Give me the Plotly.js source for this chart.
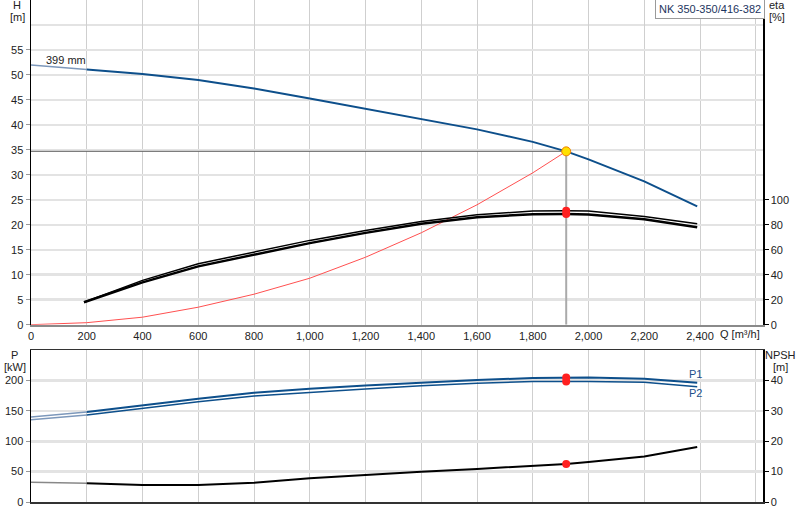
<!DOCTYPE html>
<html>
<head>
<meta charset="utf-8">
<script src="https://cdn.plot.ly/plotly-3.0.1.min.js"></script>
<style>html,body{margin:0;padding:0;background:#fff}#chart{width:800px;height:520px}</style>
</head>
<body>
<div id="chart"></div>
<script>
// ---- data ----
var qH = [0, 200, 400, 600, 800, 1000, 1200, 1400, 1600, 1800, 1920, 2000, 2200, 2390];
var headH = [52, 51.1, 50.2, 49.0, 47.3, 45.3, 43.2, 41.2, 39.1, 36.6, 34.7, 33.1, 28.7, 23.7];

var qSys = [0, 200, 400, 600, 800, 1000, 1200, 1400, 1600, 1800, 1920];
var headSys = [0, 0.4, 1.5, 3.5, 6.1, 9.3, 13.5, 18.4, 24.0, 30.4, 34.7];

var qEta = [190, 400, 600, 800, 1000, 1200, 1400, 1600, 1800, 1920, 2000, 2200, 2390];
var etaUpper = [18, 35.5, 48.8, 58.3, 67.5, 75.5, 82.6, 88, 91, 91.2, 91, 86.7, 80.8];
var etaLower = [18, 33.9, 46.7, 56.3, 65.3, 73.5, 80.8, 86, 88.5, 88.6, 88.3, 84.5, 78];

var qP = [0, 200, 400, 600, 800, 1000, 1200, 1400, 1600, 1800, 1920, 2000, 2200, 2390];
var powerP1 = [139.9, 148.1, 159.6, 170, 179.8, 186.5, 191.8, 197, 201, 204, 205, 205, 203, 196.4];
var powerP2 = [135.5, 143.2, 154.7, 165, 174.4, 180.8, 186, 191.3, 195.7, 198.4, 198.5, 198.5, 197, 189.8];
var npsh = [6.5, 6.2, 5.6, 5.6, 6.3, 7.8, 9.0, 10.0, 10.9, 11.9, 12.5, 13.2, 15.0, 18.1];

var dutyQ = 1920, dutyH = 34.7;
var dutyEta = [91.2, 88.6];
var dutyP = [205, 198.5];
var dutyNPSH = 12.5;

var xTicks = [0, 200, 400, 600, 800, 1000, 1200, 1400, 1600, 1800, 2000, 2200, 2400];
var xTickText = ['0', '200', '400', '600', '800', '1,000', '1,200', '1,400', '1,600', '1,800', '2,000', '2,200', '2,400'];
var hTicks = [0, 5, 10, 15, 20, 25, 30, 35, 40, 45, 50, 55];
var etaTicks = [0, 20, 40, 60, 80, 100];
var pTicks = [0, 50, 100, 150, 200];
var npshTicks = [0, 10, 20, 30, 40];
var pumpName = 'NK 350-350/416-382';
var impeller = '399 mm';

// ---- styles ----
var BLUE = '#0d4f8b', BLUE_EXT = '#7d98bb', BLACK = '#000', RED = '#ff2020';
var FONT = 'Liberation Sans, Arial, sans-serif';

function seg(arr, a, b) { return arr.slice(a, b); }
var iH = qH.indexOf(200), iP = qP.indexOf(200);

var traces = [
  {x: [0, dutyQ], y: [dutyH, dutyH], xaxis: 'x', yaxis: 'y', mode: 'lines', line: {color: '#666', width: 1}},
  {x: [dutyQ, dutyQ], y: [dutyH, 0], xaxis: 'x', yaxis: 'y', mode: 'lines', line: {color: '#aaa', width: 2}},
  {x: qSys, y: headSys, xaxis: 'x', yaxis: 'y', mode: 'lines', line: {color: '#ff5050', width: 1}},
  {x: seg(qH, 0, iH + 1), y: seg(headH, 0, iH + 1), xaxis: 'x', yaxis: 'y', mode: 'lines', line: {color: BLUE_EXT, width: 1.5}},
  {x: seg(qH, iH), y: seg(headH, iH), xaxis: 'x', yaxis: 'y', mode: 'lines', line: {color: BLUE, width: 2}},
  {x: qEta, y: etaUpper, xaxis: 'x', yaxis: 'y3', mode: 'lines', line: {color: BLACK, width: 1.5}},
  {x: qEta, y: etaLower, xaxis: 'x', yaxis: 'y3', mode: 'lines', line: {color: BLACK, width: 2.5}},
  {x: [dutyQ, dutyQ], y: dutyEta, xaxis: 'x', yaxis: 'y3', mode: 'markers', marker: {color: RED, size: 8}},
  {x: [dutyQ], y: [dutyH], xaxis: 'x', yaxis: 'y', mode: 'markers', marker: {color: '#ffe000', size: 9, line: {color: '#f08000', width: 1}}},
  {x: seg(qP, 0, iP + 1), y: seg(powerP1, 0, iP + 1), xaxis: 'x2', yaxis: 'y2', mode: 'lines', line: {color: BLUE_EXT, width: 1.5}},
  {x: seg(qP, 0, iP + 1), y: seg(powerP2, 0, iP + 1), xaxis: 'x2', yaxis: 'y2', mode: 'lines', line: {color: BLUE_EXT, width: 1.5}},
  {x: seg(qP, iP), y: seg(powerP1, iP), xaxis: 'x2', yaxis: 'y2', mode: 'lines', line: {color: BLUE, width: 2}},
  {x: seg(qP, iP), y: seg(powerP2, iP), xaxis: 'x2', yaxis: 'y2', mode: 'lines', line: {color: BLUE, width: 1.5}},
  {x: [dutyQ, dutyQ], y: dutyP, xaxis: 'x2', yaxis: 'y2', mode: 'markers', marker: {color: RED, size: 8}},
  {x: seg(qP, 0, iP + 1), y: seg(npsh, 0, iP + 1), xaxis: 'x2', yaxis: 'y4', mode: 'lines', line: {color: '#888', width: 1.5}},
  {x: seg(qP, iP), y: seg(npsh, iP), xaxis: 'x2', yaxis: 'y4', mode: 'lines', line: {color: BLACK, width: 2}},
  {x: [dutyQ], y: [dutyNPSH], xaxis: 'x2', yaxis: 'y4', mode: 'markers', marker: {color: RED, size: 8}}
];

var W = 800, H = 520, L = 31, R = 37, B = 17.5;
var plotW = W - L - R, plotH = H - B;
function px(x) { return (x - L) / plotW; }
function py(y) { return (plotH - y) / plotH; }

var tickFont = {family: FONT, size: 11, color: '#222'};
var xRange = [0, 2626];

function ann(text, x, y, xa, extra) {
  var a = {text: text, x: px(x), y: py(y), xref: 'paper', yref: 'paper', showarrow: false,
    xanchor: xa || 'center', yanchor: 'middle', font: {family: FONT, size: 11, color: '#222'}};
  for (var k in extra) a[k] = extra[k];
  return a;
}

var layout = {
  width: W, height: H,
  margin: {l: L, r: R, t: 0, b: B, pad: 0},
  paper_bgcolor: '#fff', plot_bgcolor: '#fff',
  showlegend: false,
  font: {family: FONT, size: 11, color: '#222'},
  xaxis: {domain: [0, 1], anchor: 'y', range: xRange, tickmode: 'array', tickvals: xTicks, ticktext: xTickText,
    tickfont: tickFont, ticks: '', showgrid: true, gridcolor: '#cfcfcf', gridwidth: 1,
    minor: {dtick: 200, tick0: 0, showgrid: true, gridcolor: '#cfcfcf', gridwidth: 1},
    showline: true, linecolor: '#8a8a8a', linewidth: 2, zeroline: false},
  yaxis: {domain: [py(325), 1], anchor: 'x', range: [0, 65], tickmode: 'array', tickvals: hTicks,
    tickfont: tickFont, ticks: 'outside', ticklen: 4, tickcolor: '#999', showgrid: true, gridcolor: '#e3e3e3', gridwidth: 2.5,
    minor: {dtick: 5, tick0: 0, showgrid: true, gridcolor: '#e3e3e3', gridwidth: 2.5},
    showline: true, linecolor: '#000', linewidth: 1.5, zeroline: false},
  yaxis3: {overlaying: 'y', side: 'right', anchor: 'x', range: [0, 260], tickmode: 'array', tickvals: etaTicks,
    tickfont: tickFont, ticks: 'outside', ticklen: 4, tickcolor: '#000', showgrid: false,
    showline: true, linecolor: '#000', linewidth: 1.5, zeroline: false},
  xaxis2: {domain: [0, 1], anchor: 'y2', range: xRange, tickmode: 'array', tickvals: xTicks, showticklabels: false,
    ticks: '', showgrid: true, gridcolor: '#cfcfcf', gridwidth: 1,
    minor: {dtick: 200, tick0: 0, showgrid: true, gridcolor: '#cfcfcf', gridwidth: 1},
    showline: true, mirror: true, linecolor: '#333', linewidth: 1.5, zeroline: false},
  yaxis2: {domain: [0, py(350.5)], anchor: 'x2', range: [0, 250], tickmode: 'array', tickvals: pTicks,
    tickfont: tickFont, ticks: 'outside', ticklen: 4, tickcolor: '#999', showgrid: true, gridcolor: '#e3e3e3', gridwidth: 2.5,
    minor: {dtick: 50, tick0: 0, showgrid: true, gridcolor: '#e3e3e3', gridwidth: 2.5},
    showline: true, linecolor: '#000', linewidth: 1.5, zeroline: false},
  yaxis4: {overlaying: 'y2', side: 'right', anchor: 'x2', range: [0, 50], tickmode: 'array', tickvals: npshTicks,
    tickfont: tickFont, ticks: 'outside', ticklen: 4, tickcolor: '#000', showgrid: false,
    showline: true, linecolor: '#000', linewidth: 1.5, zeroline: false},
  annotations: [
    ann('H', 16.5, 5),
    ann('[m]', 17, 17),
    ann('eta', 767, 5, 'left'),
    ann('[%]', 767, 17, 'left'),
    ann('P', 14, 355),
    ann('[kW]', 15, 367),
    ann('NPSH', 781, 355),
    ann('[m]', 780, 367),
    ann('Q [m³/h]', 739.5, 334),
    ann(pumpName, 710, 9.5, 'center', {font: {family: FONT, size: 11, color: '#1d3560'}, bgcolor: '#fff',
      bordercolor: '#9a9a9a', borderwidth: 1, borderpad: 3}),
    {text: impeller, x: 126, y: 52.9, xref: 'x', yref: 'y', showarrow: false, xanchor: 'center', yanchor: 'middle',
      font: {family: FONT, size: 11, color: '#222'}},
    {text: 'P1', x: 2383, y: 211, xref: 'x2', yref: 'y2', showarrow: false, xanchor: 'center', yanchor: 'middle',
      font: {family: FONT, size: 11, color: '#1d4f8b'}},
    {text: 'P2', x: 2383, y: 179, xref: 'x2', yref: 'y2', showarrow: false, xanchor: 'center', yanchor: 'middle',
      font: {family: FONT, size: 11, color: '#1d4f8b'}}
  ]
};

Plotly.newPlot('chart', traces, layout, {staticPlot: true, displayModeBar: false});
</script>
</body>
</html>
